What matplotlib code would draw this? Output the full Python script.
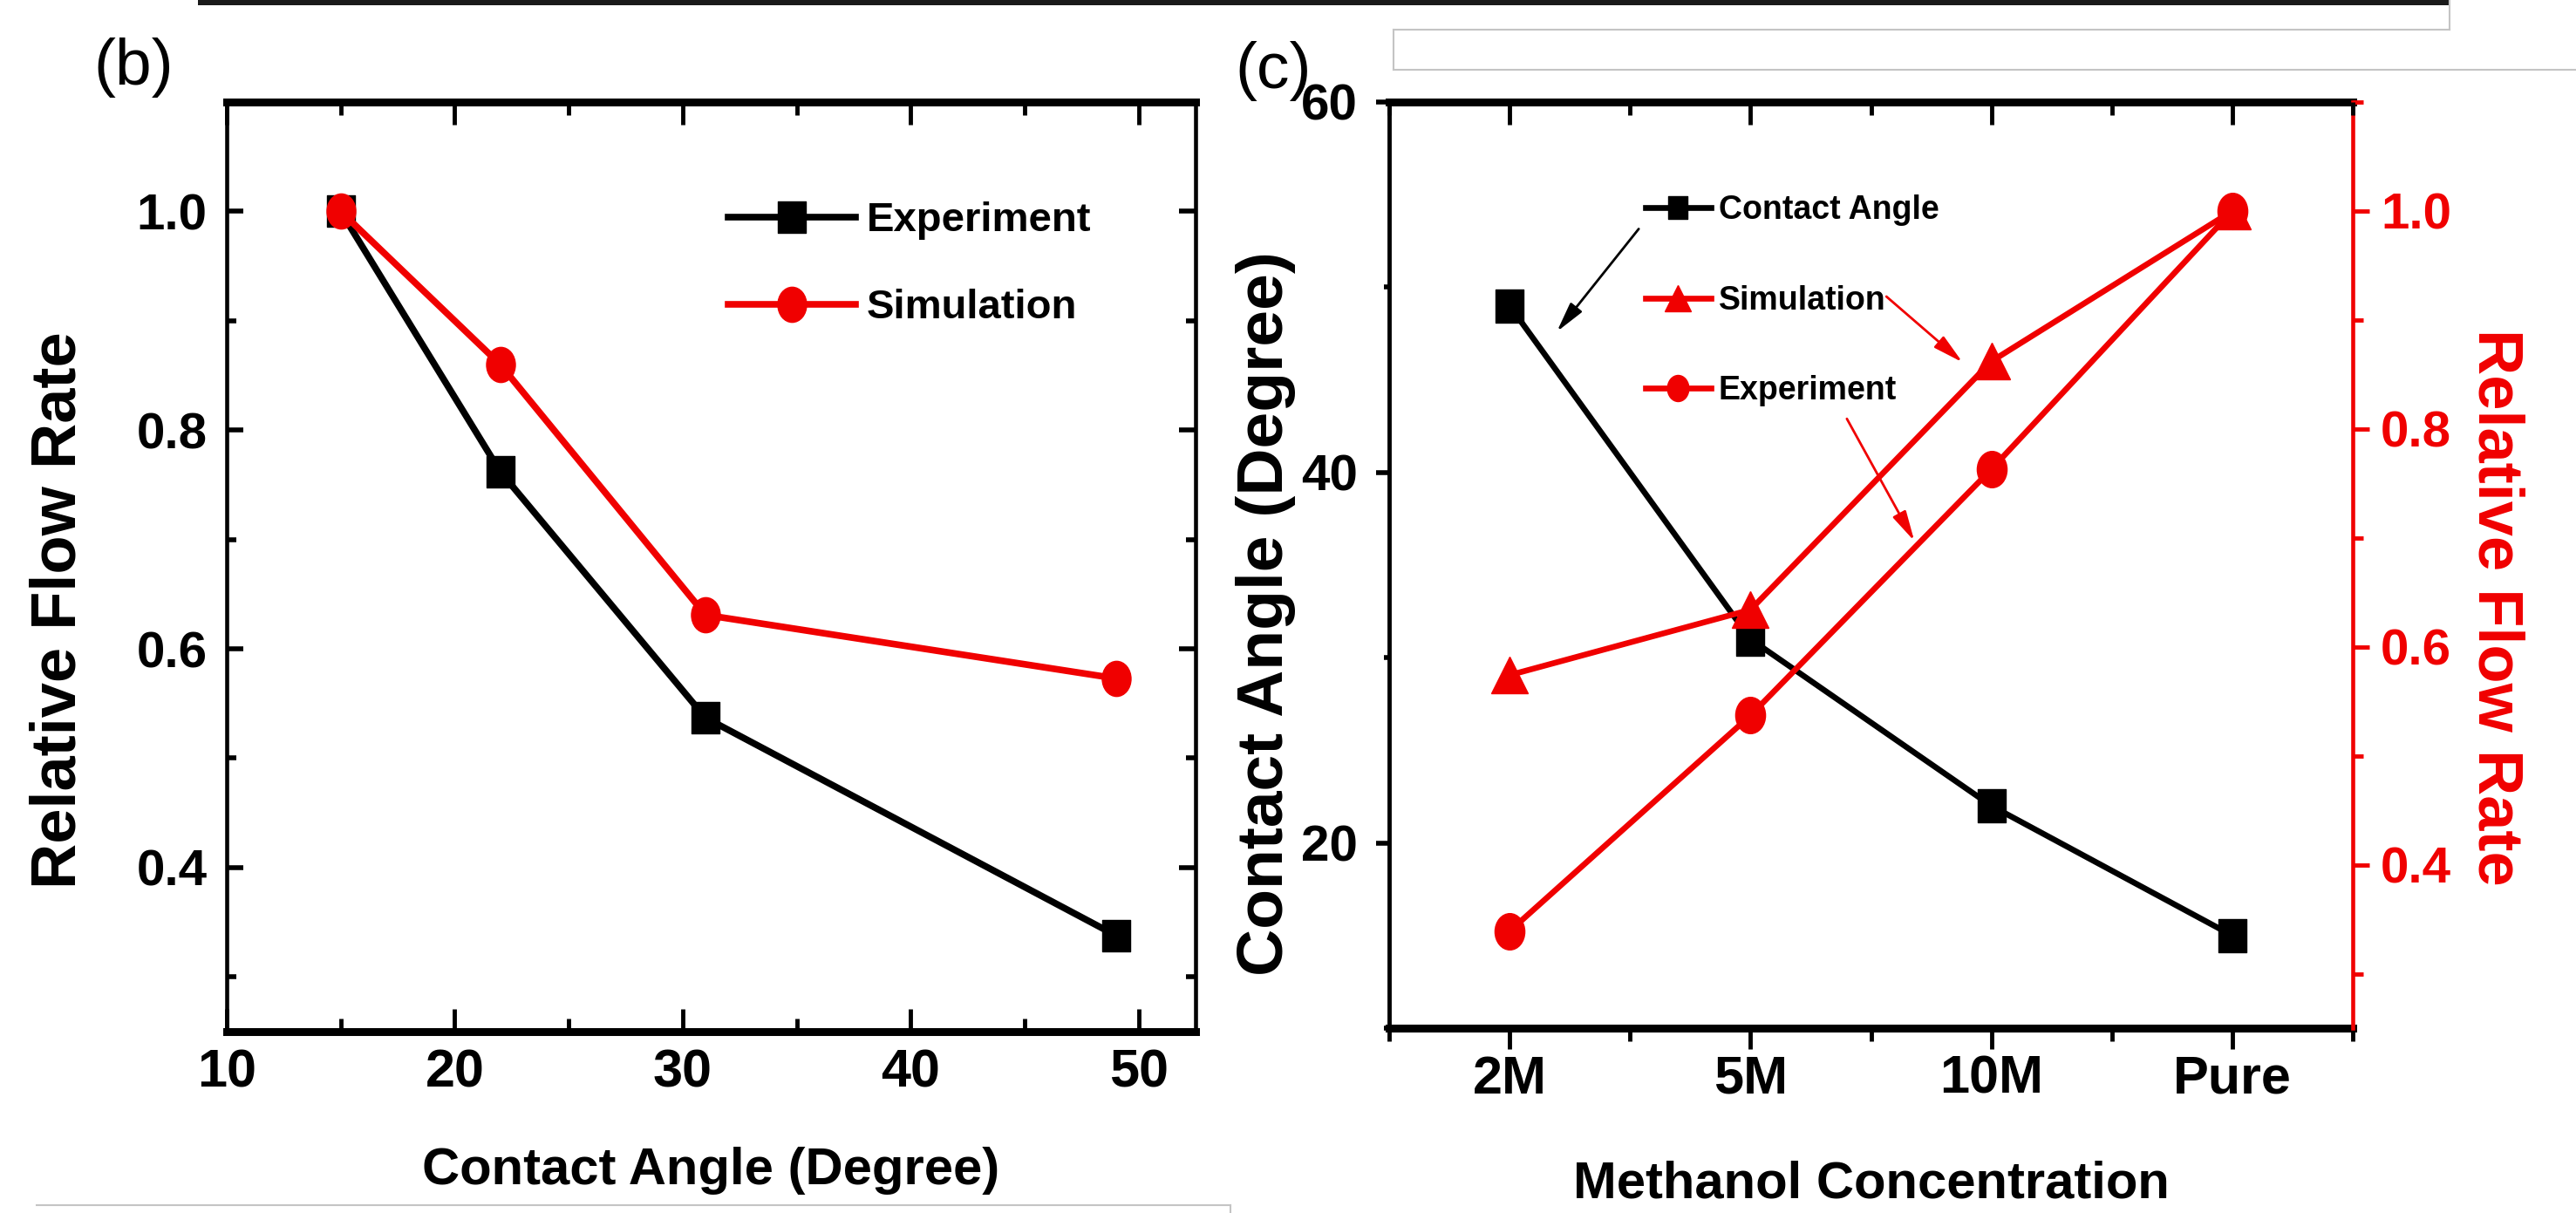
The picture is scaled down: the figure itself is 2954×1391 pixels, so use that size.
import matplotlib
matplotlib.use('Agg')
import matplotlib.pyplot as plt
from matplotlib.ticker import MultipleLocator
from matplotlib.path import Path
from matplotlib.markers import MarkerStyle
from matplotlib.transforms import Affine2D
from matplotlib.lines import Line2D
from matplotlib.patches import Rectangle

# ---------------- data ----------------
# panel (b)
contact_angle_b = [15, 22, 31, 49]
exp_flow_b = [1.0, 0.762, 0.537, 0.338]
sim_flow_b = [1.0, 0.860, 0.631, 0.573]

# panel (c)
concentrations = ['2M', '5M', '10M', 'Pure']
contact_angle_c = [49, 31, 22, 15]
sim_flow_c = [0.574, 0.634, 0.862, 1.0]
exp_flow_c = [0.339, 0.537, 0.763, 1.0]

# ---------------- style ----------------
plt.rcParams['font.family'] = ['Liberation Sans', 'DejaVu Sans']
plt.rcParams['font.weight'] = 'bold'
plt.rcParams['axes.labelweight'] = 'bold'
RED = '#f00000'

W, H = 2954, 1391
DPI = 100
fig = plt.figure(figsize=(W / DPI, H / DPI), dpi=DPI)
fig.patch.set_facecolor('white')


def px_axes(l, t, r, b):
    return fig.add_axes([l / W, 1 - b / H, (r - l) / W, (b - t) / H])


def ellipse_marker(aspect):
    return MarkerStyle(Path.unit_circle().transformed(Affine2D().scale(aspect, 1.0)))


def rect_marker(aspect):
    return MarkerStyle(Path.unit_rectangle().transformed(
        Affine2D().translate(-0.5, -0.5).scale(aspect, 1.0)))


# ================= panel (b) =================
axb = px_axes(260, 117, 1371, 1183)
axb.plot(contact_angle_b, exp_flow_b, color='black', lw=5.5,
         marker=rect_marker(0.86), ms=26, label='Experiment', zorder=3)
axb.plot(contact_angle_b, sim_flow_b, color=RED, lw=5.5,
         marker=ellipse_marker(0.82), ms=29, label='Simulation', zorder=4)

axb.set_xlim(10, 52.5)
axb.set_ylim(0.25, 1.1)
axb.xaxis.set_major_locator(MultipleLocator(10))
axb.xaxis.set_minor_locator(MultipleLocator(5))
axb.yaxis.set_major_locator(MultipleLocator(0.2))
axb.yaxis.set_minor_locator(MultipleLocator(0.1))

axb.tick_params(axis='both', which='both', direction='in', top=True, right=True)
axb.tick_params(axis='x', which='major', length=19, width=3.5, pad=14,
                labelsize=44)
axb.tick_params(axis='x', which='minor', length=11, width=3.5)
axb.tick_params(axis='y', which='major', length=14, width=4, pad=16, labelsize=42)
axb.tick_params(axis='y', which='minor', length=8, width=4)
for s in ['top', 'bottom']:
    axb.spines[s].set_linewidth(6.5)
for s in ['left', 'right']:
    axb.spines[s].set_linewidth(3.3)

axb.set_ylabel('Relative Flow Rate', fontsize=52, va='center')
axb.yaxis.set_label_coords(-0.173, 0.453)
axb.set_xlabel('Contact Angle (Degree)', fontsize=43, va='center')
axb.xaxis.set_label_coords(0.5, -0.150)

axb.legend(loc='upper left', bbox_to_anchor=(0.5176, 0.893), frameon=False,
           fontsize=34, handlelength=3.1, handletextpad=0.26, labelspacing=1.19,
           borderpad=0, borderaxespad=0)

fig.text(153 / W, 1 - 77 / H, '(b)', fontsize=54, weight='normal',
         ha='center', va='center')

# ================= panel (c) =================
axc = px_axes(1593, 117, 2698, 1179)
axc.plot(concentrations, contact_angle_c, color='black', lw=4.8,
         marker=rect_marker(0.84), ms=27, label='Contact Angle', zorder=3)
axc.set_xlim(-0.5, 3.5)
axc.set_ylim(10, 60)
axc.xaxis.set_minor_locator(MultipleLocator(0.5))
axc.yaxis.set_major_locator(MultipleLocator(20))
axc.yaxis.set_minor_locator(MultipleLocator(10))

axc2 = axc.twinx()
axc2.plot(concentrations, sim_flow_c, color=RED, lw=4.8, marker='^', ms=30,
          label='Simulation')
axc2.plot(concentrations, exp_flow_c, color=RED, lw=4.8,
          marker=ellipse_marker(0.82), ms=30, label='Experiment')
axc2.set_ylim(0.25, 1.1)
axc2.yaxis.set_major_locator(MultipleLocator(0.2))
axc2.yaxis.set_minor_locator(MultipleLocator(0.1))

# top ticks (inward)
axtop = axc.twiny()
axtop.set_xlim(axc.get_xlim())
axtop.xaxis.set_major_locator(MultipleLocator(1))
axtop.xaxis.set_minor_locator(MultipleLocator(0.5))
axtop.tick_params(axis='x', which='both', direction='in', labeltop=False,
                  top=True, bottom=False)
axtop.tick_params(axis='x', which='major', length=19, width=3.5)
axtop.tick_params(axis='x', which='minor', length=11, width=3.5)
for s in axtop.spines.values():
    s.set_visible(False)

axc.tick_params(axis='x', which='both', direction='out', top=False, bottom=True)
axc.tick_params(axis='x', which='major', length=17, width=3.5, pad=5,
                labelsize=44)
axc.tick_params(axis='x', which='minor', length=11, width=3.5)
axc.tick_params(axis='y', which='both', direction='out', left=True, right=False)
axc.tick_params(axis='y', which='major', length=11, width=4, pad=15, labelsize=42)
axc.tick_params(axis='y', which='minor', length=4, width=4)

axc2.tick_params(axis='y', which='both', direction='out', colors=RED)
axc2.tick_params(axis='y', which='major', length=14, width=3.5, pad=9, labelsize=42)
axc2.tick_params(axis='y', which='minor', length=8.5, width=3.5)

for s in ['top', 'bottom']:
    axc.spines[s].set_linewidth(6.5)
axc.spines['left'].set_linewidth(3.5)
axc.spines['right'].set_visible(False)
for s in ['top', 'bottom', 'left']:
    axc2.spines[s].set_visible(False)
axc2.spines['right'].set_color(RED)
axc2.spines['right'].set_linewidth(3.3)

axc.set_ylabel('Contact Angle (Degree)', fontsize=54, va='center')
axc.yaxis.set_label_coords(-0.128, 0.448)
axc.set_xlabel('Methanol Concentration', fontsize=43, va='center')
axc.xaxis.set_label_coords(0.5, -0.169)
axc2.set_ylabel('Relative Flow Rate', fontsize=52, color=RED, rotation=270,
                va='center')
axc2.yaxis.set_label_coords(1.148, 0.454)

handles = axc.get_lines()[:1] + axc2.get_lines()
axc2.legend(handles, [h.get_label() for h in handles], loc='upper left',
            bbox_to_anchor=(0.266, 0.90), frameon=False, fontsize=27,
            handlelength=2.0, handletextpad=0.24, labelspacing=1.80,
            borderpad=0, borderaxespad=0, markerscale=0.72)

# annotation arrows
arrow_black = dict(arrowstyle='-|>,head_length=0.7,head_width=0.17', color='black',
                   lw=2.0, mutation_scale=30, shrinkA=0, shrinkB=0)
arrow_red = dict(arrowstyle='-|>,head_length=0.7,head_width=0.17', color=RED,
                 lw=2.0, mutation_scale=30, shrinkA=0, shrinkB=0)
axc2.annotate('', xy=(0.174, 0.752), xytext=(0.259, 0.863),
              xycoords='axes fraction', textcoords='axes fraction',
              arrowprops=arrow_black)
axc2.annotate('', xy=(0.595, 0.719), xytext=(0.516, 0.790),
              xycoords='axes fraction', textcoords='axes fraction',
              arrowprops=arrow_red)
axc2.annotate('', xy=(0.545, 0.526), xytext=(0.475, 0.658),
              xycoords='axes fraction', textcoords='axes fraction',
              arrowprops=arrow_red)

fig.text(1460 / W, 1 - 82 / H, '(c)', fontsize=54, weight='normal',
         ha='center', va='center')

# ---------------- page decorations (screenshot frame) ----------------
fig.add_artist(Rectangle((227 / W, 1 - 6 / H), (2809 - 227) / W, 6 / H,
                         transform=fig.transFigure, color='#1a1a1a', lw=0))
GRAY = '#c4c4c4'


def fig_line(x0, y0, x1, y1):
    fig.add_artist(Line2D([x0 / W, x1 / W], [1 - y0 / H, 1 - y1 / H],
                          transform=fig.transFigure, color=GRAY, lw=1.5))


fig_line(2809, 0, 2809, 34)
fig_line(1598, 34, 2809, 34)
fig_line(1598, 34, 1598, 80)
fig_line(1598, 80, 2954, 80)
fig_line(42, 1382, 1411, 1382)
fig_line(1411, 1382, 1411, 1391)

fig.savefig('out.png', dpi=DPI, facecolor='white')
